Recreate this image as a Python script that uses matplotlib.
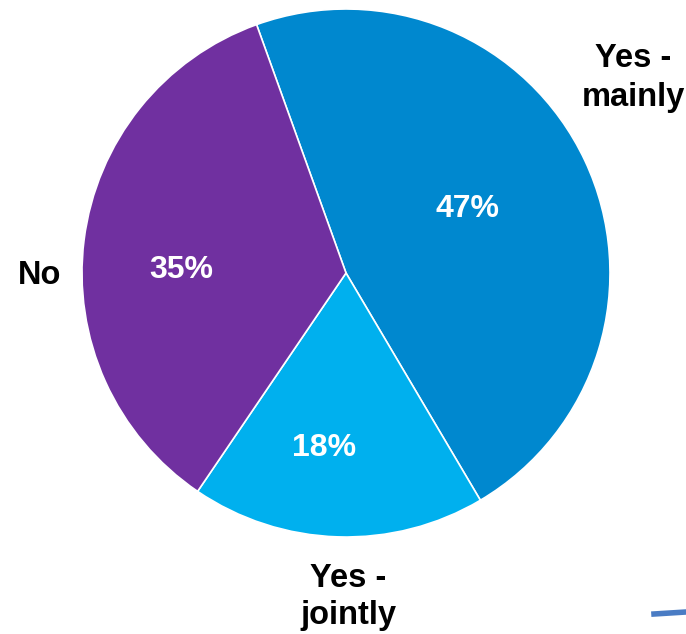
import matplotlib.pyplot as plt
from matplotlib.lines import Line2D

plt.rcParams['font.family'] = ['Liberation Sans', 'DejaVu Sans']

categories = ['Yes -\nmainly', 'Yes -\njointly', 'No']
shares = [47, 18, 35]
colors = ['#0088CF', '#00B0EE', '#7030A0']

fig = plt.figure(figsize=(6.86, 6.34), dpi=100)
ax = fig.add_axes([0, 0, 1, 1])

wedges, texts = ax.pie(shares, colors=colors, startangle=109.8,
                       counterclock=False, center=(346, 361), radius=264,
                       wedgeprops=dict(edgecolor='white', linewidth=1.2),
                       frame=True)
ax.set_xlim(0, 686)
ax.set_ylim(0, 634)
ax.set_aspect('equal')
ax.axis('off')

# percentage labels inside the slices
pct_pos = [(467, 425), (324, 186), (181, 364)]
for (x, y), v in zip(pct_pos, shares):
    ax.text(x, y, f'{v}%', color='white', fontsize=23, fontweight='bold',
            ha='center', va='center')

# category labels outside
cat_pos = [(633, 556), (348, 37), (40, 359)]
spacing = [1.3, 1.22, 1.2]
for (x, y), name, ls in zip(cat_pos, categories, spacing):
    ax.text(x, y, name, color='black', fontsize=23.5, fontweight='bold',
            ha='center', va='center', linespacing=ls)

# stray connector stub in the lower right corner
fig.add_artist(Line2D([654 / 686, 1.0], [1 - 614 / 634, 1 - 612 / 634],
                      color='#4A7CC4', linewidth=4, transform=fig.transFigure))

fig.savefig('out.png', dpi=100)
